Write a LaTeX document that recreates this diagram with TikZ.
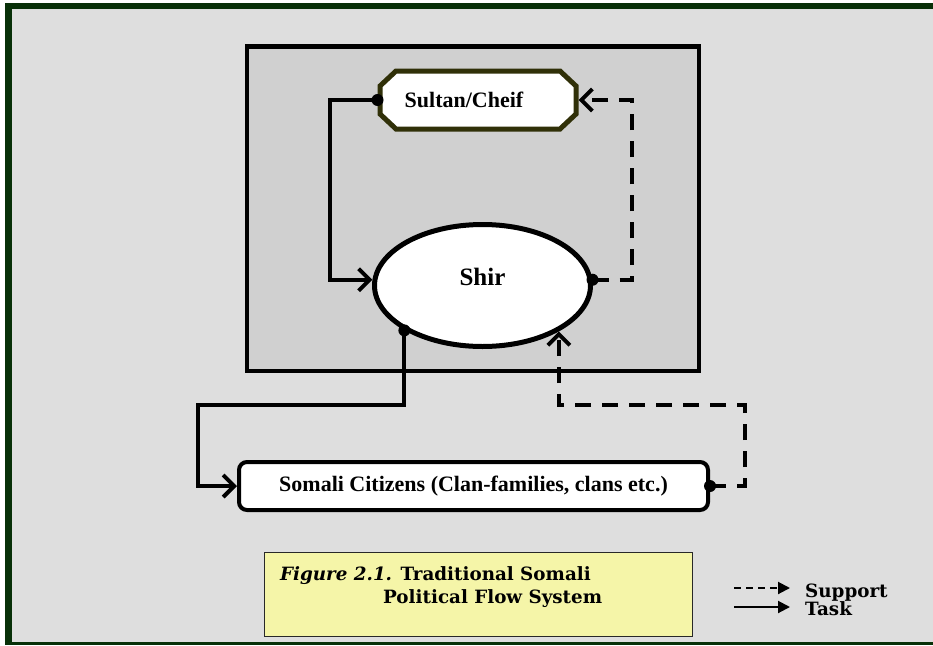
\documentclass[tikz,border=0pt]{standalone}
\usepackage{fontspec}
\setmainfont{Liberation Serif}
\newfontfamily\capfont{DejaVu Serif}
\usetikzlibrary{arrows.meta,shapes.geometric}

\definecolor{framegreen}{RGB}{8,48,8}
\definecolor{pagegray}{RGB}{222,222,222}
\definecolor{panelgray}{RGB}{208,208,208}
\definecolor{oliveline}{RGB}{48,48,8}
\definecolor{capyellow}{RGB}{245,245,168}
\definecolor{capline}{RGB}{40,40,40}

\tikzset{
  nodefont/.style={font=\fontsize{22}{26}\selectfont\bfseries},
  task/.style={line width=4pt, -{Straight Barb[length=11pt,width=22pt]}},
  support/.style={task, dash pattern=on 16pt off 11pt},
  joint/.style={fill=black},
  legtask/.style={line width=2pt, -{Triangle[length=12pt,width=12pt]}},
  legsupport/.style={legtask, dash pattern=on 7pt off 5pt},
  legtext/.style={anchor=base west, inner sep=0pt, font=\capfont\fontsize{18.3}{18}\selectfont\bfseries},
  captext/.style={anchor=base west, inner sep=0pt, font=\capfont\fontsize{18.3}{20}\selectfont\bfseries},
}

\begin{document}
\begin{tikzpicture}[x=1pt,y=-1pt]
\useasboundingbox (0,0) rectangle (933,645);

% page and its green frame
\fill[pagegray] (5,3) rectangle (933,645);
\fill[framegreen] (5,3) rectangle (12,645);
\fill[framegreen] (5,3) rectangle (933,9);
\fill[framegreen] (5,642) rectangle (933,645);

% inner panel
\draw[line width=4.5pt, fill=panelgray] (247,46.5) rectangle (699,371);

% octagon behind the Sultan/Cheif label
\def\sx{478}\def\sy{100}
\filldraw[draw=oliveline, fill=white, line width=5pt]
  (\sx-82,\sy-29) -- (\sx+82,\sy-29) -- (\sx+98,\sy-14) -- (\sx+98,\sy+14)
  -- (\sx+82,\sy+29) -- (\sx-82,\sy+29) -- (\sx-98,\sy+14) -- (\sx-98,\sy-14) -- cycle;
\node[nodefont, minimum width=196pt, minimum height=58pt, outer sep=2.5pt, inner sep=0pt]
  (sultan) at (\sx,\sy) {\raisebox{-2pt}{Sultan/Cheif}\kern28pt};

% Shir
\node[ellipse, draw, line width=5pt, fill=white, minimum width=216pt, minimum height=122pt,
  inner sep=0pt, font=\fontsize{25}{30}\selectfont\bfseries]
  (shir) at (482.5,285.5) {\raisebox{0pt}[0pt][0pt]{Shir}};

% Somali citizens
\node[draw, line width=4pt, rounded corners=8pt, fill=white, nodefont,
  minimum width=469pt, minimum height=48pt, inner sep=0pt]
  (cit) at (473.5,486) {Somali Citizens (Clan-families, clans etc.)};

% bend points
\coordinate (tb2) at (198,405);
\coordinate (sb1) at (745,405);
\coordinate (sb2) at (632,100);

% task lines
\draw[task] (sultan.west) -- ++(-48,0) |- (shir.177);
\draw[task] (shir.south west) |- (tb2) |- (cit.west);
% support lines
\draw[support] (cit.east) -| (sb1) -| (shir.-31);
\draw[support] (shir.3) -| (sb2) -- (sultan.east);

% joints
\fill[joint] (sultan.west) circle[radius=6pt];
\fill[joint] (shir.south west) circle[radius=6pt];
\fill[joint] (cit.east) circle[radius=6pt];
\fill[joint] (shir.3) circle[radius=6pt];

% caption
\node[draw=capline, line width=1.2pt, fill=capyellow, minimum width=428pt, minimum height=84pt,
  inner sep=0pt] (capbox) at (478.5,594.5) {};
\node[captext] (cap1) at (280,580) {\textit{Figure 2.1.} Traditional Somali};
\node[captext] (cap2) at (383,603) {Political Flow System};

% legend
\coordinate (ls1) at (734,588);
\coordinate (ls2) at (790,588);
\coordinate (lt1) at (734,607);
\coordinate (lt2) at (790,607);
\draw[legsupport] (ls1) -- (ls2);
\draw[legtask] (lt1) -- (lt2);
\node[legtext] (legs) at (805,597) {Support};
\node[legtext] (legt) at (805,615) {Task};
\end{tikzpicture}
\end{document}
